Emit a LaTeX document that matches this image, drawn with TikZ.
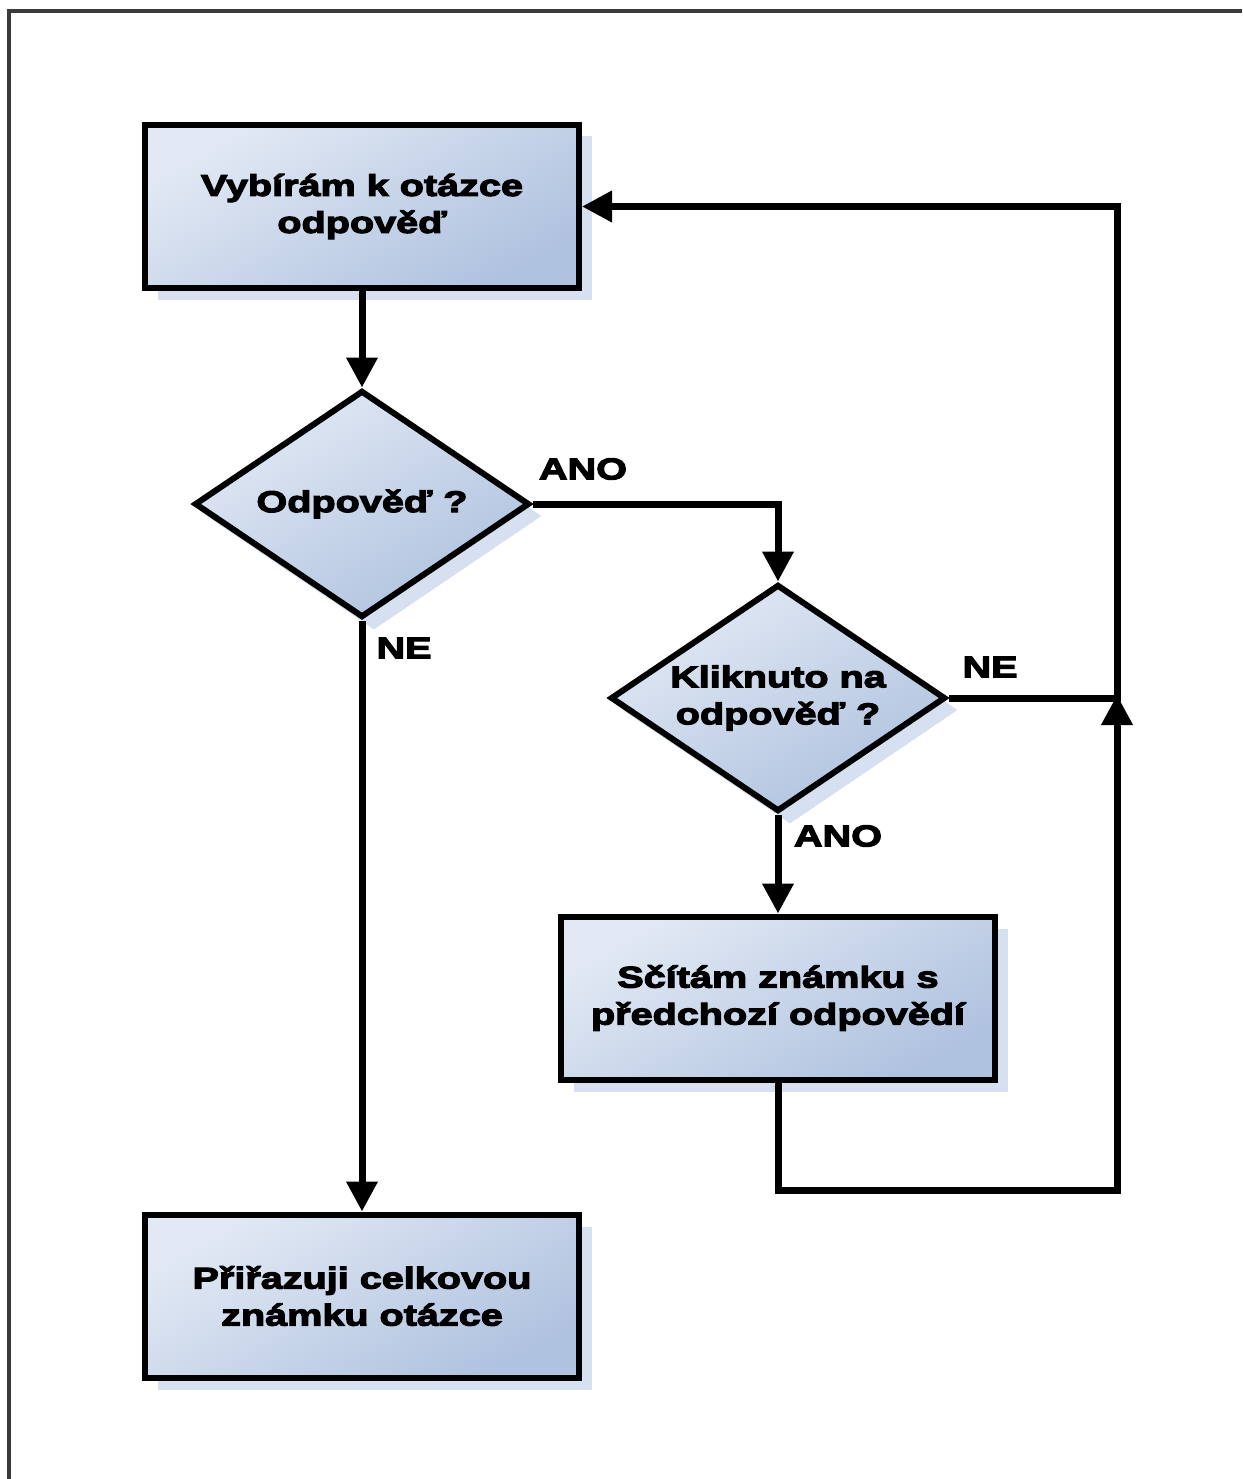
\documentclass[tikz,border=0pt]{standalone}
\usepackage{fontspec}
\newfontfamily\lbl{Liberation Sans}[FakeStretch=1.32,FakeBold=4]
\usetikzlibrary{shapes.geometric,arrows.meta}
\definecolor{boxtop}{HTML}{E2E9F4}
\definecolor{boxbot}{HTML}{AFC2DF}
\definecolor{shadowc}{HTML}{D6E0F0}
\definecolor{framec}{HTML}{3A3A3A}
\tikzset{
  txt/.style={font=\lbl\bfseries\fontsize{30}{37}\selectfont, align=center, text=black},
  procbox/.style={txt, rectangle, draw=black, line width=6pt, minimum width=434pt, minimum height=163pt, inner sep=0pt,
    shading=axis, top color=boxtop, bottom color=boxbot, shading angle=30},
  decbox/.style={txt, diamond, draw=black, line width=6pt, minimum width=335pt, minimum height=227pt, inner sep=0pt, aspect=1.476,
    shading=axis, top color=boxtop, bottom color=boxbot, shading angle=30},
  boxshadow/.style={rectangle, fill=shadowc, minimum width=434pt, minimum height=163pt, inner sep=0pt},
  decshadow/.style={diamond, fill=shadowc, minimum width=335pt, minimum height=227pt, inner sep=0pt, aspect=1.476},
  conn/.style={line width=7pt, draw=black},
  arr/.style={conn, -{Triangle[length=30pt,width=30pt]}},
  lab/.style={font=\lbl\bfseries\fontsize{30}{37}\selectfont, text=black, inner sep=0pt},
  frameline/.style={line width=3.5pt, draw=framec}
}
\begin{document}
\begin{tikzpicture}[x=1pt,y=-1pt]
\useasboundingbox (0,0) rectangle (1242,1479);
\fill[white] (0,0) rectangle (1242,1479);
% outer frame (top and left only visible)
\draw[frameline] (9,1479) -- (9,11) -- (1242,11);

% shadows
\node[boxshadow] (s1) at (375,218) {};
\node[decshadow] (s2) at (374,516) {};
\node[decshadow] (s3) at (790,710) {};
\node[boxshadow] (s4) at (791,1010) {};
\node[boxshadow] (s5) at (375,1308) {};

% nodes
\node[procbox] (b1) at (362,206.5) {Vybírám k otázce\\odpověď};
\node[decbox]  (d1) at (362,504) {Odpověď ?};
\node[decbox]  (d2) at (778,698) {Kliknuto na\\odpověď ?};
\node[procbox] (b3) at (778,998) {Sčítám známku s\\předchozí odpovědí};
\node[procbox] (b4) at (362,1296) {Přiřazuji celkovou\\známku otázce};

% junction coordinates
\coordinate (j1) at (1117,698);
\coordinate (j2) at (778,504);
\coordinate (j3) at (778,1190);

% connectors
\draw[arr] (b1.south) -- (d1.north);
\draw[arr] (d1.east) -- (j2) -- (d2.north);
\draw[arr] (d1.south) -- (b4.north);
\draw[arr] (d2.south) -- (b3.north);
\draw[arr] (d2.east) -- (j1) -- (j1 |- b1.east) -- (b1.east);
\draw[arr, shorten >=-3pt] (b3.south) -- (j3) -| (j1);

% labels
\node[lab] (lano1) at (583,469) {ANO};
\node[lab] (lne1) at (404,648) {NE};
\node[lab] (lne2) at (990,667) {NE};
\node[lab] (lano2) at (838,836) {ANO};
\end{tikzpicture}
\end{document}
